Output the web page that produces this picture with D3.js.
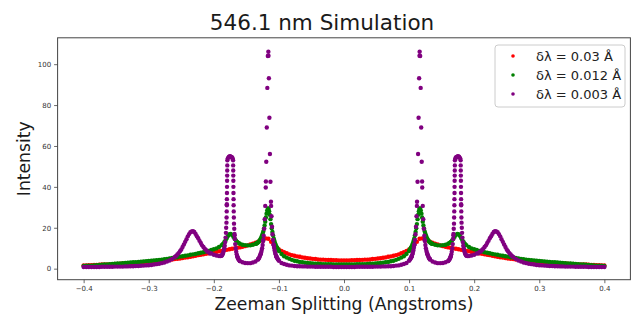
<!DOCTYPE html>
<html>
<head>
<meta charset="utf-8">
<script src="https://cdn.jsdelivr.net/npm/d3@7"></script>
<style>
  html, body { margin: 0; background: #fff; }
  svg { display: block; font-family: "DejaVu Sans", sans-serif; }
</style>
</head>
<body>
<svg id="chart" width="638" height="320"></svg>
<script>
// ---- labels ----
const chartTitle = "546.1 nm Simulation";
const xTitle = "Zeeman Splitting (Angstroms)";
const yTitle = "Intensity";
const xTicks = [-0.4, -0.3, -0.2, -0.1, 0.0, 0.1, 0.2, 0.3, 0.4];
const yTicks = [0, 20, 40, 60, 80, 100];
const seriesNames = ["δλ = 0.03 Å", "δλ = 0.012 Å", "δλ = 0.003 Å"];

// ---- base samples: one value every 0.004 Å ----
const sampleStep = 0.004;

// intensities at Δλ = 0, +0.004, … +0.4
const redPos = [
  4.0,4.0,4.0,4.1,4.1,4.2,4.2,4.3,4.4,4.4,
  4.5,4.7,4.8,5.0,5.1,5.3,5.5,5.8,6.0,6.3,
  6.6,7.0,7.5,8.0,8.7,9.4,10.5,11.8,13.1,14.6,
  14.8,14.4,13.8,13.2,12.7,12.2,11.8,11.4,11.0,10.7,
  10.4,10.2,9.9,9.7,9.5,9.2,9.0,8.7,8.5,8.2,
  8.0,7.8,7.5,7.3,7.0,6.8,6.6,6.3,6.1,5.8,
  5.6,5.4,5.2,5.0,4.8,4.7,4.5,4.4,4.2,4.0,
  3.9,3.8,3.6,3.5,3.4,3.3,3.2,3.1,3.0,2.9,
  2.8,2.7,2.7,2.6,2.5,2.5,2.4,2.3,2.3,2.2,
  2.1,2.1,2.0,2.0,1.9,1.8,1.8,1.7,1.7,1.6,
  1.6
];
// intensities at Δλ = -0.004, -0.008, … -0.4
const redNeg = [
  4.0,4.0,4.1,4.1,4.2,4.2,4.3,4.4,4.4,
  4.5,4.7,4.8,5.0,5.1,5.3,5.5,5.8,6.0,6.3,
  6.6,7.0,7.5,8.0,8.7,9.4,10.5,11.8,13.1,14.6,
  14.8,14.4,13.8,13.2,12.7,12.2,11.8,11.4,11.0,10.7,
  10.4,10.2,9.9,9.7,9.5,9.2,9.0,8.7,8.5,8.2,
  8.0,7.8,7.5,7.3,7.0,6.8,6.6,6.3,6.1,5.8,
  5.6,5.4,5.2,5.0,4.8,4.7,4.5,4.4,4.2,4.0,
  3.9,3.8,3.6,3.5,3.4,3.3,3.2,3.1,3.0,2.9,
  2.8,2.7,2.7,2.6,2.5,2.5,2.4,2.3,2.3,2.2,
  2.1,2.1,2.0,2.0,1.9,1.8,1.8,1.7,1.7,1.6,
  1.6
];

const greenPos = [
  2.1,2.1,2.1,2.1,2.1,2.2,2.2,2.2,2.2,2.3,
  2.4,2.4,2.6,2.7,2.8,2.9,3.1,3.3,3.6,3.9,
  4.3,4.8,5.4,6.1,7.2,8.6,10.9,14.8,21.8,29.2,
  25.0,18.2,14.6,13.0,12.1,11.7,11.4,11.4,11.5,11.7,
  12.2,13.1,14.6,16.5,16.9,15.0,12.9,11.5,10.6,9.9,
  9.5,9.1,8.7,8.4,8.0,7.8,7.5,7.2,7.0,6.8,
  6.5,6.3,6.1,5.9,5.6,5.4,5.2,5.0,4.8,4.6,
  4.4,4.3,4.1,4.0,3.9,3.8,3.7,3.5,3.4,3.3,
  3.2,3.1,3.0,2.9,2.8,2.7,2.6,2.5,2.4,2.3,
  2.2,2.1,2.0,1.9,1.8,1.7,1.6,1.5,1.5,1.4,
  1.3
];
const greenNeg = [
  2.1,2.1,2.1,2.1,2.2,2.2,2.2,2.2,2.3,
  2.4,2.4,2.6,2.7,2.8,2.9,3.1,3.3,3.6,3.9,
  4.3,4.8,5.4,6.1,7.2,8.6,10.9,14.8,21.8,29.2,
  25.0,18.2,14.6,13.0,12.1,11.7,11.4,11.4,11.5,11.7,
  12.2,13.1,14.6,16.5,16.9,15.0,12.9,11.5,10.6,9.9,
  9.5,9.1,8.7,8.4,8.0,7.8,7.5,7.2,7.0,6.8,
  6.5,6.3,6.1,5.9,5.6,5.4,5.2,5.0,4.8,4.6,
  4.4,4.3,4.1,4.0,3.9,3.8,3.7,3.5,3.4,3.3,
  3.2,3.1,3.0,2.9,2.8,2.7,2.6,2.5,2.4,2.3,
  2.2,2.1,2.0,1.9,1.8,1.7,1.6,1.5,1.5,1.4,
  1.3
];

const purplePos = [
  0.8,0.8,0.8,0.8,0.8,0.9,0.9,0.9,0.9,0.9,
  0.9,0.9,1.0,1.0,1.0,1.1,1.1,1.2,1.2,1.3,
  1.5,1.6,1.9,2.3,2.8,3.9,6.0,11.4,30.7,104.1,
  42.6,14.1,7.2,4.6,3.5,3.0,2.7,2.7,2.8,3.1,
  3.7,6.0,16.3,54.3,54.9,31.5,9.8,6.4,6.2,6.4,
  6.8,7.4,8.1,9.1,10.6,12.6,14.9,17.0,18.3,17.8,
  15.8,13.1,10.6,8.5,6.9,5.7,4.7,4.0,3.5,3.0,
  2.7,2.4,2.2,2.0,1.8,1.7,1.6,1.5,1.4,1.3,
  1.3,1.2,1.2,1.1,1.1,1.0,1.0,1.0,1.0,0.9,
  0.9,0.9,0.9,0.9,0.8,0.8,0.8,0.8,0.8,0.8,
  0.8
];
const purpleNeg = [
  0.8,0.8,0.8,0.8,0.9,0.9,0.9,0.9,0.9,
  0.9,0.9,1.0,1.0,1.0,1.1,1.1,1.2,1.2,1.3,
  1.5,1.6,1.9,2.3,2.8,3.9,6.0,11.4,30.7,104.1,
  42.6,14.1,7.2,4.6,3.5,3.0,2.7,2.7,2.8,3.1,
  3.7,6.0,16.3,54.3,54.9,31.5,9.8,6.4,6.2,6.4,
  6.8,7.4,8.1,9.1,10.6,12.6,14.9,17.0,18.3,17.8,
  15.8,13.1,10.6,8.5,6.9,5.7,4.7,4.0,3.5,3.0,
  2.7,2.4,2.2,2.0,1.8,1.7,1.6,1.5,1.4,1.3,
  1.3,1.2,1.2,1.1,1.1,1.0,1.0,1.0,1.0,0.9,
  0.9,0.9,0.9,0.9,0.8,0.8,0.8,0.8,0.8,0.8,
  0.8
];

// ---- extra samples [Δλ, intensity] on the steep line profiles ----
const greenPeakPos = [
  [0.101,9.2],[0.102,9.7],[0.103,10.3],[0.105,11.7],[0.106,12.6],[0.107,13.7],
  [0.109,16.3],[0.110,17.9],[0.111,19.8],[0.113,24.2],[0.114,26.4],[0.115,28.1],
  [0.1165,29.4],[0.117,29.3],[0.118,28.4],[0.119,26.9],[0.121,23.0],[0.122,21.1],
  [0.123,19.6],[0.125,17.1],[0.126,16.1],[0.127,15.3],[0.129,14.1],[0.130,13.6],
  [0.131,13.2],[0.133,12.6],[0.134,12.4],[0.135,12.2],
  [0.162,12.6],[0.166,13.8],[0.170,15.6],[0.174,17.0],[0.178,16.1],[0.182,13.9],[0.186,12.1]
];
const greenPeakNeg = [
  [-0.101,9.2],[-0.102,9.7],[-0.103,10.3],[-0.105,11.7],[-0.106,12.6],[-0.107,13.7],
  [-0.109,16.3],[-0.110,17.9],[-0.111,19.8],[-0.113,24.2],[-0.114,26.4],[-0.115,28.1],
  [-0.1165,29.4],[-0.117,29.3],[-0.118,28.4],[-0.119,26.9],[-0.121,23.0],[-0.122,21.1],
  [-0.123,19.6],[-0.125,17.1],[-0.126,16.1],[-0.127,15.3],[-0.129,14.1],[-0.130,13.6],
  [-0.131,13.2],[-0.133,12.6],[-0.134,12.4],[-0.135,12.2],
  [-0.162,12.6],[-0.166,13.8],[-0.170,15.6],[-0.174,17.0],[-0.178,16.1],[-0.182,13.9],[-0.186,12.1]
];

const purplePeakPos = [
  // component at 0.1165 Å
  [0.1010,4.3],[0.1018,4.7],[0.1026,5.1],[0.1034,5.6],[0.1042,6.2],[0.1050,7.0],
  [0.1058,7.8],[0.1066,8.9],[0.1074,10.2],[0.1082,11.9],[0.1090,14.0],[0.1098,16.8],
  [0.1106,20.5],[0.1114,25.6],[0.1122,32.7],[0.1130,42.5],[0.1138,56.1],[0.1146,73.8],
  [0.1154,93.1],[0.1162,106.1],[0.1170,104.0],[0.1178,88.4],[0.1186,69.0],[0.1194,52.3],
  [0.1202,39.7],[0.1210,30.7],[0.1218,24.2],[0.1226,19.5],[0.1234,16.1],[0.1242,13.5],
  [0.1250,11.6],[0.1258,10.0],[0.1266,8.8],[0.1274,7.8],[0.1282,7.0],[0.1290,6.3],
  [0.1298,5.7],[0.1306,5.2],[0.1314,4.8],[0.1322,4.5],
  // component at 0.1748 Å
  [0.1748,55.0],[0.1726,54.6],[0.1712,54.0],[0.1770,54.6],[0.1784,54.0],
  [0.1704,53.0],[0.1703,50.5],[0.1702,48.0],[0.1701,45.5],[0.1700,43.0],[0.1699,40.0],
  [0.1698,37.0],[0.1697,34.0],[0.1696,31.0],[0.1694,28.0],[0.1692,25.0],[0.1690,22.0],
  [0.1686,19.5],[0.1682,17.0],[0.1677,14.5],[0.1671,12.0],[0.1664,10.0],[0.1656,8.3],
  [0.1648,7.0],[0.1640,6.0],[0.1631,5.2],[0.1621,4.6],[0.1611,4.1],[0.1600,3.7],
  [0.1792,53.0],[0.1793,50.5],[0.1794,48.0],[0.1795,45.5],[0.1796,43.0],[0.1797,40.0],
  [0.1798,37.0],[0.1799,34.0],[0.1800,31.0],[0.1802,28.0],[0.1804,25.0],[0.1806,22.5],
  [0.1810,20.0],[0.1814,17.5],[0.1819,15.2],[0.1825,13.0],[0.1832,11.2],[0.1840,9.8],
  [0.1848,8.7],[0.1856,7.8],[0.1865,7.1],[0.1875,6.6],[0.1885,6.3],[0.1896,6.2],
  // component at 0.233 Å
  [0.206,7.5],[0.210,8.4],[0.214,9.7],[0.218,11.4],[0.222,13.6],[0.226,15.9],[0.230,17.9],
  [0.234,18.2],[0.238,16.9],[0.242,14.4],[0.246,11.8],[0.250,9.4],[0.254,7.6],[0.258,6.2]
];
const purplePeakNeg = [
  [-0.1010,4.3],[-0.1018,4.7],[-0.1026,5.1],[-0.1034,5.6],[-0.1042,6.2],[-0.1050,7.0],
  [-0.1058,7.8],[-0.1066,8.9],[-0.1074,10.2],[-0.1082,11.9],[-0.1090,14.0],[-0.1098,16.8],
  [-0.1106,20.5],[-0.1114,25.6],[-0.1122,32.7],[-0.1130,42.5],[-0.1138,56.1],[-0.1146,73.8],
  [-0.1154,93.1],[-0.1162,106.1],[-0.1170,104.0],[-0.1178,88.4],[-0.1186,69.0],[-0.1194,52.3],
  [-0.1202,39.7],[-0.1210,30.7],[-0.1218,24.2],[-0.1226,19.5],[-0.1234,16.1],[-0.1242,13.5],
  [-0.1250,11.6],[-0.1258,10.0],[-0.1266,8.8],[-0.1274,7.8],[-0.1282,7.0],[-0.1290,6.3],
  [-0.1298,5.7],[-0.1306,5.2],[-0.1314,4.8],[-0.1322,4.5],
  [-0.1748,55.0],[-0.1726,54.6],[-0.1712,54.0],[-0.1770,54.6],[-0.1784,54.0],
  [-0.1704,53.0],[-0.1703,50.5],[-0.1702,48.0],[-0.1701,45.5],[-0.1700,43.0],[-0.1699,40.0],
  [-0.1698,37.0],[-0.1697,34.0],[-0.1696,31.0],[-0.1694,28.0],[-0.1692,25.0],[-0.1690,22.0],
  [-0.1686,19.5],[-0.1682,17.0],[-0.1677,14.5],[-0.1671,12.0],[-0.1664,10.0],[-0.1656,8.3],
  [-0.1648,7.0],[-0.1640,6.0],[-0.1631,5.2],[-0.1621,4.6],[-0.1611,4.1],[-0.1600,3.7],
  [-0.1792,53.0],[-0.1793,50.5],[-0.1794,48.0],[-0.1795,45.5],[-0.1796,43.0],[-0.1797,40.0],
  [-0.1798,37.0],[-0.1799,34.0],[-0.1800,31.0],[-0.1802,28.0],[-0.1804,25.0],[-0.1806,22.5],
  [-0.1810,20.0],[-0.1814,17.5],[-0.1819,15.2],[-0.1825,13.0],[-0.1832,11.2],[-0.1840,9.8],
  [-0.1848,8.7],[-0.1856,7.8],[-0.1865,7.1],[-0.1875,6.6],[-0.1885,6.3],[-0.1896,6.2],
  [-0.206,7.5],[-0.210,8.4],[-0.214,9.7],[-0.218,11.4],[-0.222,13.6],[-0.226,15.9],[-0.230,17.9],
  [-0.234,18.2],[-0.238,16.9],[-0.242,14.4],[-0.246,11.8],[-0.250,9.4],[-0.254,7.6],[-0.258,6.2]
];

// ---- assemble [Δλ, intensity] points per series ----
function samples(pos, neg, extraPos, extraNeg) {
  const pts = [];
  pos.forEach((v, i) => pts.push([i * sampleStep, v]));
  neg.forEach((v, i) => pts.push([-(i + 1) * sampleStep, v]));
  return pts.concat(extraPos || [], extraNeg || []);
}
const series = [
  { name: seriesNames[0], color: "#ff0000", points: samples(redPos, redNeg) },
  { name: seriesNames[1], color: "#008000", points: samples(greenPos, greenNeg, greenPeakPos, greenPeakNeg) },
  { name: seriesNames[2], color: "#800080", points: samples(purplePos, purpleNeg, purplePeakPos, purplePeakNeg) }
];

// ---- layout ----
const W = 638, H = 320;
const plot = { left: 57.6, right: 630.4, top: 37.8, bottom: 279.7 };
const font = "DejaVu Sans";
const dotRadius = 2.2;

const svg = d3.select("#chart");
svg.append("rect").attr("width", W).attr("height", H).attr("fill", "#fff");

const x = d3.scaleLinear().domain([-0.44, 0.44]).range([plot.left, plot.right]);
const y = d3.scaleLinear().domain([-5.4, 112.9]).range([plot.bottom, plot.top]);

// axes
const gx = svg.append("g")
  .attr("transform", `translate(0,${plot.bottom})`)
  .call(d3.axisBottom(x).tickValues(xTicks).tickFormat(d3.format(".1f")).tickSize(3.5).tickPadding(3));
const gy = svg.append("g")
  .attr("transform", `translate(${plot.left},0)`)
  .call(d3.axisLeft(y).tickValues(yTicks).tickFormat(d3.format("d")).tickSize(3.5).tickPadding(3));
[gx, gy].forEach(g => {
  g.select(".domain").remove();
  g.attr("font-family", font).attr("font-size", 7);
  g.selectAll(".tick line").attr("stroke", "#444").attr("stroke-width", 0.8);
  g.selectAll(".tick text").attr("fill", "#333");
});

// frame
svg.append("rect")
  .attr("x", plot.left).attr("y", plot.top)
  .attr("width", plot.right - plot.left).attr("height", plot.bottom - plot.top)
  .attr("fill", "none").attr("stroke", "#444").attr("stroke-width", 1);

// scatter dots
series.forEach(s => {
  svg.append("g")
    .selectAll("circle")
    .data(s.points)
    .join("circle")
    .attr("cx", d => x(d[0]))
    .attr("cy", d => y(d[1]))
    .attr("r", dotRadius)
    .attr("fill", s.color);
});

// titles
svg.append("text")
  .attr("x", 322).attr("y", 29.5)
  .attr("text-anchor", "middle")
  .attr("font-family", font).attr("font-size", 21.5).attr("fill", "#1a1a1a")
  .text(chartTitle);
svg.append("text")
  .attr("x", (plot.left + plot.right) / 2).attr("y", 309.5)
  .attr("text-anchor", "middle")
  .attr("font-family", font).attr("font-size", 17.2).attr("fill", "#1a1a1a")
  .text(xTitle);
svg.append("text")
  .attr("transform", `translate(30,${(plot.top + plot.bottom) / 2}) rotate(-90)`)
  .attr("text-anchor", "middle")
  .attr("font-family", font).attr("font-size", 17.2).attr("fill", "#1a1a1a")
  .text(yTitle);

// legend
const legend = svg.append("g").attr("transform", "translate(495,45)");
legend.append("rect")
  .attr("width", 130).attr("height", 62).attr("rx", 3)
  .attr("fill", "#fff").attr("fill-opacity", 0.8)
  .attr("stroke", "#ccc").attr("stroke-width", 1);
series.forEach((s, i) => {
  const row = legend.append("g").attr("transform", `translate(0,${11 + i * 19})`);
  row.append("circle").attr("cx", 18).attr("cy", 0).attr("r", 1.8).attr("fill", s.color);
  row.append("text")
    .attr("x", 41).attr("y", 4.6)
    .attr("font-family", font).attr("font-size", 13).attr("fill", "#222")
    .text(s.name);
});
</script>
</body>
</html>
